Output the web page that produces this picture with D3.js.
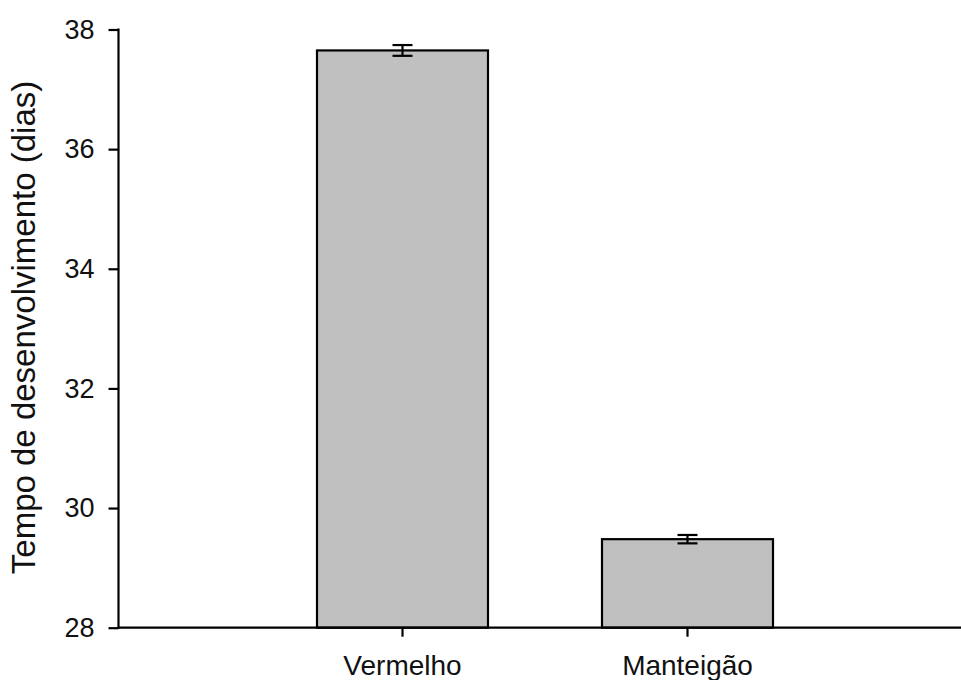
<!DOCTYPE html>
<html>
<head>
<meta charset="utf-8">
<script src="https://cdn.jsdelivr.net/npm/d3@7"></script>
<style>
  html, body { margin: 0; padding: 0; background: #fff; }
  svg { display: block; font-family: Arial, "Liberation Sans", sans-serif; }
</style>
</head>
<body>
<svg id="chart" width="961" height="680"></svg>
<script>
// Development time by cultivar (mean ± standard error)
const categories = ["Vermelho", "Manteigão"];
const means = [37.65, 29.48];
const errors = [0.09, 0.07];
const yTicks = [28, 30, 32, 34, 36, 38];
const yLabel = "Tempo de desenvolvimento (dias)";

const svg = d3.select("#chart");
const axisX = 118.5, axisRight = 961;
const yTop = 29.5, yBottom = 627.7;

const y = d3.scaleLinear().domain([28, 38]).range([yBottom, yTop]);
const x = d3.scaleBand().domain(categories).range([203, 887])
  .paddingInner(0.4).paddingOuter(0.4);

const rows = categories.map((c, i) => ({ c, m: means[i], e: errors[i] }));

// Bars
svg.append("g").selectAll("rect").data(rows).join("rect")
  .attr("x", d => x(d.c))
  .attr("width", x.bandwidth())
  .attr("y", d => y(d.m))
  .attr("height", d => y(28) - y(d.m))
  .attr("fill", "#c0c0c0")
  .attr("stroke", "#000")
  .attr("stroke-width", 2.2);

// Error bars
const eb = svg.append("g").attr("stroke", "#000").attr("stroke-width", 2.2);
rows.forEach(d => {
  const cx = x(d.c) + x.bandwidth() / 2;
  eb.append("line").attr("x1", cx).attr("x2", cx).attr("y1", y(d.m + d.e)).attr("y2", y(d.m - d.e));
  eb.append("line").attr("x1", cx - 10).attr("x2", cx + 10).attr("y1", y(d.m + d.e)).attr("y2", y(d.m + d.e));
  eb.append("line").attr("x1", cx - 10).attr("x2", cx + 10).attr("y1", y(d.m - d.e)).attr("y2", y(d.m - d.e));
});

// Y axis
const yAxis = svg.append("g").attr("transform", `translate(${axisX},0)`)
  .call(d3.axisLeft(y).tickValues(yTicks).tickSize(10).tickPadding(14).tickFormat(d3.format("d")));
yAxis.select(".domain").remove();
yAxis.selectAll(".tick line").attr("stroke", "#000").attr("stroke-width", 2.2);
yAxis.selectAll(".tick text").attr("font-size", 27).attr("fill", "#111")
  .attr("font-family", "Arial, 'Liberation Sans', sans-serif");
svg.append("line").attr("x1", axisX).attr("x2", axisX).attr("y1", yTop - 1).attr("y2", yBottom + 1)
  .attr("stroke", "#000").attr("stroke-width", 2.2);

// X axis
const xAxis = svg.append("g").attr("transform", `translate(0,${yBottom})`)
  .call(d3.axisBottom(x).tickSize(9).tickPadding(18));
xAxis.select(".domain").remove();
xAxis.selectAll(".tick line").attr("stroke", "#000").attr("stroke-width", 2.2);
xAxis.selectAll(".tick text").attr("font-size", 28).attr("fill", "#111")
  .attr("font-family", "Arial, 'Liberation Sans', sans-serif");
svg.append("line").attr("x1", axisX).attr("x2", axisRight).attr("y1", yBottom).attr("y2", yBottom)
  .attr("stroke", "#000").attr("stroke-width", 2.2);

// Y axis title
svg.append("text")
  .attr("transform", `translate(35,${(80 + 575) / 2}) rotate(-90)`)
  .attr("text-anchor", "middle")
  .attr("font-size", 33)
  .attr("fill", "#111")
  .text(yLabel);
</script>
</body>
</html>
